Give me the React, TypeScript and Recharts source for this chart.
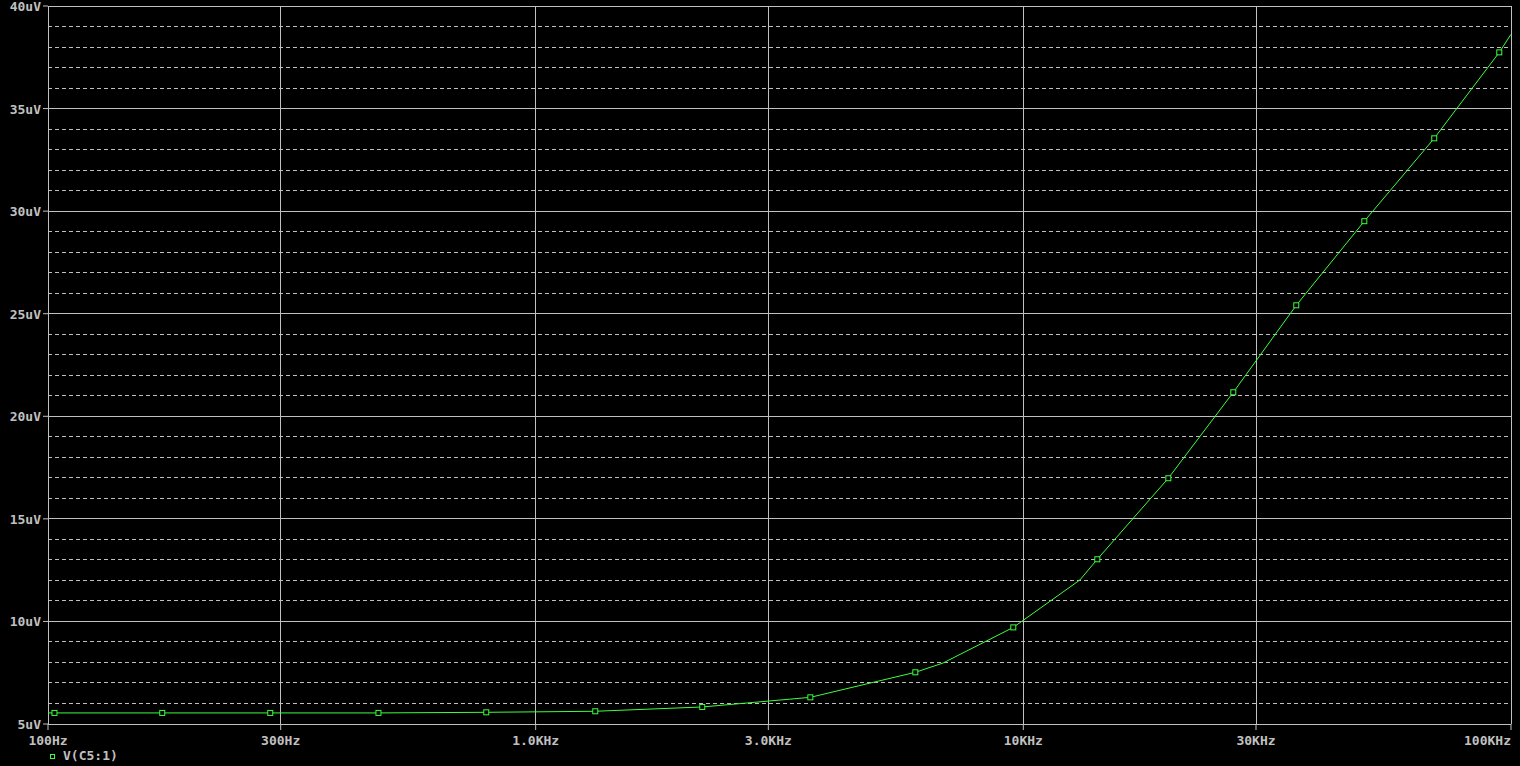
import { LineChart, Line, XAxis, YAxis, CartesianGrid, ReferenceLine } from 'recharts';

// frequency sweep (Hz / uV)
const FREQ_HZ = [100, 103.1, 171.5, 285.6, 476, 792, 1325, 2196, 3658, 6005, 6842, 9537, 13060, 14180, 19830, 26950, 36280, 50030, 69600, 94620, 100000];
const V_UV = [5.54, 5.54, 5.54, 5.54, 5.54, 5.57, 5.62, 5.83, 6.3, 7.52, 7.97, 9.71, 12.02, 13.03, 16.98, 21.17, 25.41, 29.51, 33.55, 37.74, 38.62];
const MARKED = [false, true, true, true, true, true, true, true, true, true, false, true, false, true, true, true, true, true, true, true, false];

const X_TICKS = [100, 300, 1000, 3000, 10000, 30000, 100000];
const X_LABELS = ['100Hz', '300Hz', '1.0KHz', '3.0KHz', '10KHz', '30KHz', '100KHz'];
const Y_TICKS = [5, 10, 15, 20, 25, 30, 35, 40];
const Y_MINOR = [6, 7, 8, 9, 11, 12, 13, 14, 16, 17, 18, 19, 21, 22, 23, 24, 26, 27, 28, 29, 31, 32, 33, 34, 36, 37, 38, 39];

const TRACE = '#3cff3c';
const GRID = '#c0c0c0';
const FONT = '"DejaVu Sans Mono", monospace';

const data = FREQ_HZ.map((f, i) => ({ f, v: V_UV[i], marked: MARKED[i] }));

const XTick = (props: any) => {
  const { x, y, payload, index } = props;
  const idx = X_TICKS.indexOf(payload.value);
  const last = index === X_TICKS.length - 1;
  return (
    <text x={x} y={y} dy={13} textAnchor={last ? 'end' : 'middle'} fill={GRID} fontFamily={FONT} fontWeight="bold" fontSize={13}>
      {X_LABELS[idx]}
    </text>
  );
};

const YTick = (props: any) => {
  const { x, y, payload } = props;
  return (
    <text x={x} y={y} dy={5} textAnchor="end" fill={GRID} fontFamily={FONT} fontWeight="bold" fontSize={13}>
      {`${payload.value}uV`}
    </text>
  );
};

const Marker = (props: any) => {
  const { cx, cy, payload, index } = props;
  if (!payload.marked) return <g key={`m-${index}`} />;
  return <rect key={`m-${index}`} x={cx - 2.5} y={cy - 2.5} width={5} height={5} fill="#000" stroke={TRACE} strokeWidth={1} />;
};

export default function App() {
  return (
    <div style={{ position: 'absolute', left: 0, top: 0, width: 1520, height: 766, background: '#000' }}>
      <LineChart width={1520} height={766} data={data} margin={{ top: 6, right: 9, bottom: 12, left: 0 }}>
        <CartesianGrid stroke={GRID} shapeRendering="crispEdges" />
        {Y_MINOR.map((v) => (
          <ReferenceLine key={v} y={v} stroke={GRID} strokeDasharray="4 3" shapeRendering="crispEdges" />
        ))}
        <XAxis
          dataKey="f"
          type="number"
          scale="log"
          domain={[100, 100000]}
          ticks={X_TICKS}
          allowDataOverflow
          height={30}
          axisLine={false}
          tickSize={6}
          tickLine={{ stroke: GRID }}
          tick={<XTick />}
          interval={0}
        />
        <YAxis
          type="number"
          domain={[5, 40]}
          ticks={Y_TICKS}
          width={48}
          axisLine={false}
          tickSize={5}
          tickLine={{ stroke: GRID }}
          tick={<YTick />}
          interval={0}
        />
        <Line dataKey="v" type="linear" stroke={TRACE} strokeWidth={1} dot={Marker} activeDot={false} isAnimationActive={false} />
      </LineChart>
      <div style={{ position: 'absolute', left: 50, top: 754, width: 3, height: 3, border: `1px solid ${TRACE}` }} />
      <div style={{ position: 'absolute', left: 63, top: 749, fontFamily: FONT, fontWeight: 'bold', fontSize: 13, lineHeight: '13px', color: GRID }}>
        V(C5:1)
      </div>
    </div>
  );
}
